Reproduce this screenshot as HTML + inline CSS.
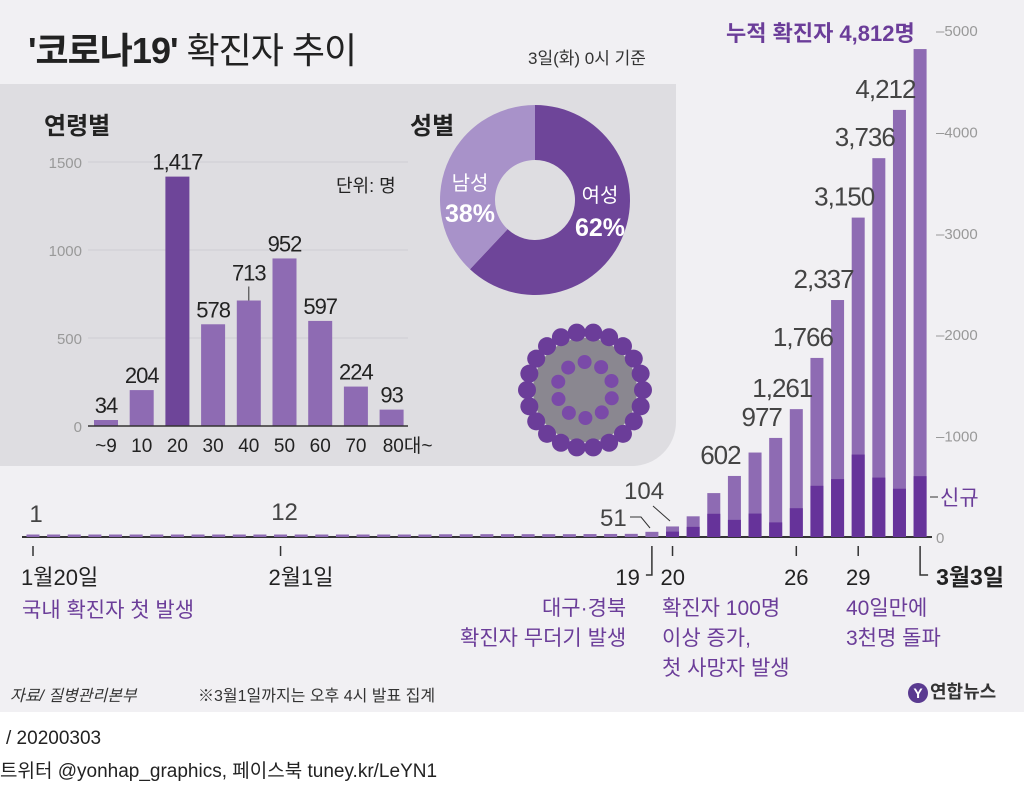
<!DOCTYPE html>
<html><head><meta charset="utf-8">
<style>
body{margin:0;width:1024px;height:794px;overflow:hidden;background:#fff;font-family:"Liberation Sans","Noto Sans CJK KR",sans-serif;}
#top{position:absolute;left:0;top:0;width:1024px;height:712px;background:#f1f0f3;}
#panel{position:absolute;left:0;top:84px;width:676px;height:382px;background:#dedde1;border-bottom-right-radius:44px;}
.t{position:absolute;white-space:nowrap;}
</style></head><body>
<div id="top"></div>
<div id="panel"></div>
<div class="t" style="left:28px;top:22px;font-size:36px;font-weight:bold;color:#222;letter-spacing:-1px">'코로나19' <span style="font-weight:normal">확진자 추이</span></div>
<div class="t" style="left:528px;top:44px;font-size:17px;color:#333">3일(화) 0시 기준</div>
<div class="t" style="left:44px;top:106px;font-size:24px;font-weight:bold;color:#222">연령별</div>
<div class="t" style="left:410px;top:106px;font-size:24px;font-weight:bold;color:#222">성별</div>
<div class="t" style="left:336px;top:172px;font-size:18px;color:#222">단위: 명</div>
<div class="t" style="left:726px;top:16px;font-size:22px;font-weight:bold;color:#6b3d99">누적 확진자 4,812명</div>
<svg id="chart" width="1024" height="794" style="position:absolute;left:0;top:0"></svg>
<div class="t" style="left:22px;top:594px;font-size:21px;color:#6b3d99">국내 확진자 첫 발생</div>
<div class="t" style="left:460px;top:594px;font-size:21px;color:#6b3d99;text-align:right;line-height:30px">&nbsp;&nbsp;&nbsp;&nbsp;&nbsp;&nbsp;&nbsp;&nbsp;&nbsp;대구·경북<br>확진자 무더기 발생</div>
<div class="t" style="left:662px;top:594px;font-size:21px;color:#6b3d99;line-height:30px">확진자 100명<br>이상 증가,<br>첫 사망자 발생</div>
<div class="t" style="left:846px;top:594px;font-size:21px;color:#6b3d99;line-height:30px">40일만에<br>3천명 돌파</div>
<div class="t" style="left:10px;top:682px;font-size:16px;color:#333;font-style:italic">자료/ 질병관리본부</div>
<div class="t" style="left:198px;top:682px;font-size:16px;color:#333">※3월1일까지는 오후 4시 발표 집계</div>
<div class="t" style="left:908px;top:678px;font-size:18px;font-weight:bold;color:#333"><span style="display:inline-block;width:20px;height:20px;border-radius:10px;background:#5a3a90;color:#fff;text-align:center;font-size:14px;line-height:20px;margin-right:2px">Y</span>연합뉴스</div>
<div class="t" style="left:6px;top:728px;font-size:19px;color:#222">/ 20200303</div>
<div class="t" style="left:0px;top:756px;font-size:19px;color:#222">트위터 @yonhap_graphics, 페이스북 tuney.kr/LeYN1</div>
<script>
const cumulative=[1,1,1,2,2,3,4,4,4,6,11,11,12,15,15,16,19,23,24,24,27,27,28,28,28,28,28,29,30,31,51,104,204,433,602,833,977,1261,1766,2337,3150,3736,4212,4812];
const newCases=[0,0,0,0,0,0,0,0,0,0,0,0,0,0,0,0,0,0,0,0,0,0,0,0,0,0,0,0,0,0,0,53,100,229,169,231,144,284,505,571,813,586,476,600];
const labelIdx=[34,36,37,38,39,40,41,42];
const yTicks=[0,1000,2000,3000,4000,5000];
const ageCats=["~9","10","20","30","40","50","60","70","80대~"];
const ageVals=[34,204,1417,578,713,952,597,224,93];
const ageTicks=[0,500,1000,1500];
const genderVals=[62,38];
const genderLabels=["여성","남성"];
const NS="http://www.w3.org/2000/svg";
const svg=document.getElementById('chart');
function mk(tag,attrs,name,txt){const e=document.createElementNS(NS,tag);for(const k in attrs)e.setAttribute(k,attrs[k]);


if(txt!==undefined)e.textContent=txt;svg.appendChild(e);return e;}
const fam='"Liberation Sans","Noto Sans CJK KR",sans-serif';
const X=i=>33+i*20.63, Y=v=>537-v*0.1014;
yTicks.forEach(t=>{mk('text',{x:936,y:Y(t)+6,'font-size':15,fill:'#999','font-family':fam},'y-tick-label',(t?'–':'')+t);});
mk('line',{x1:22,x2:932,y1:537,y2:537,stroke:'#333','stroke-width':2},'x-axis-line');
cumulative.forEach((v,i)=>{const h=Math.max(v*0.1014,2.5);
mk('rect',{x:X(i)-6.5,y:537-h,width:13,height:h,fill:'#8e6bb3'},'bar-cumulative');
if(newCases[i]>0){const hn=newCases[i]*0.1014;mk('rect',{x:X(i)-6.5,y:537-hn,width:13,height:hn,fill:'#66339a'},'bar-new');}});
labelIdx.forEach(i=>{const v=cumulative[i];mk('text',{x:X(i)-14,y:Y(v)-12,'font-size':26,fill:'#444','text-anchor':'middle','font-family':fam,'letter-spacing':'-1'},'bar-value-label',v.toLocaleString('en-US'));});
mk('text',{x:36,y:522,'font-size':24,fill:'#444','text-anchor':'middle','font-family':fam},'value-label-first','1');
mk('text',{x:X(12)+4,y:520,'font-size':24,fill:'#444','text-anchor':'middle','font-family':fam},'value-label-feb1','12');
mk('text',{x:600,y:526,'font-size':24,fill:'#444','font-family':fam},'value-label-51','51');
mk('polyline',{points:`630,517 641,517 650,528`,fill:'none',stroke:'#333'},'leader-51');
mk('text',{x:624,y:499,'font-size':24,fill:'#444','font-family':fam},'value-label-104','104');
mk('line',{x1:653,y1:506,x2:670,y2:521,stroke:'#333'},'leader-104');
mk('text',{x:940,y:505,'font-size':21,fill:'#6b3d99','font-family':fam},'new-cases-label','신규');
mk('line',{x1:930,x2:938,y1:497,y2:497,stroke:'#333'},'new-tick');
[[0,'1월20일','start'],[12,'2월1일','start'],[31,'20','start'],[37,'26','middle'],[40,'29','middle']].forEach(([i,l,a])=>{
mk('line',{x1:X(i),x2:X(i),y1:546,y2:556,stroke:'#333','stroke-width':1.5},'x-tick');
mk('text',{x:a==='start'?X(i)-12:X(i),y:585,'font-size':22,fill:'#222','text-anchor':a,'font-family':fam},'x-tick-label',l);});
mk('polyline',{points:`${X(30)},546 ${X(30)},575 ${X(30)-6},575`,fill:'none',stroke:'#333','stroke-width':1.5},'x-tick-19');
mk('text',{x:X(30)-12,y:585,'font-size':22,fill:'#222','text-anchor':'end','font-family':fam},'x-tick-label','19');
mk('polyline',{points:`${X(43)},546 ${X(43)},575 ${X(43)+8},575`,fill:'none',stroke:'#333','stroke-width':1.5},'x-tick-mar3');
mk('text',{x:X(43)+16,y:585,'font-size':23,'font-weight':'bold',fill:'#222','font-family':fam},'x-tick-label','3월3일');
const AX=i=>106+i*35.7, AY=v=>426-v*0.176;
ageTicks.forEach(t=>{if(t)mk('line',{x1:88,x2:408,y1:AY(t),y2:AY(t),stroke:'#cfcdd3'},'age-gridline');
mk('text',{x:82,y:AY(t)+6,'font-size':15,fill:'#999','text-anchor':'end','font-family':fam},'age-y-tick',t);});
ageVals.forEach((v,i)=>{mk('rect',{x:AX(i)-12,y:AY(v),width:24,height:426-AY(v),fill:i===2?'#6e4599':'#8e6bb3'},'age-bar');
mk('text',{x:AX(i),y:AY(v)-(i===4?20:7),'font-size':22,fill:'#222','text-anchor':'middle','font-family':fam,'letter-spacing':'-1'},'age-value-label',v.toLocaleString('en-US'));
mk('text',{x:i===8?AX(i)+16:AX(i),y:452,'font-size':19,fill:'#222','text-anchor':'middle','font-family':fam},'age-category-label',ageCats[i]);});
mk('line',{x1:AX(4),x2:AX(4),y1:AY(713)-14,y2:AY(713),stroke:'#333'},'leader-713');
mk('line',{x1:88,x2:408,y1:426,y2:426,stroke:'#333','stroke-width':1.5},'age-axis');
const cx=535,cy=200,R=95,r=40;let a0=-Math.PI/2;
const cols=['#6e4599','#a892c9'];
genderVals.forEach((v,i)=>{const a1=a0+v/100*2*Math.PI,lg=v>50?1:0;
const p=(rr,a)=>`${cx+rr*Math.cos(a)},${cy+rr*Math.sin(a)}`;
mk('path',{d:`M${p(R,a0)} A${R},${R} 0 ${lg} 1 ${p(R,a1)} L${p(r,a1)} A${r},${r} 0 ${lg} 0 ${p(r,a0)}Z`,fill:cols[i]},'gender-slice');
a0=a1;});
mk('text',{x:600,y:202,'font-size':20,fill:'#fff','text-anchor':'middle','font-family':fam},'gender-label',genderLabels[0]);
mk('text',{x:600,y:236,'font-size':25,'font-weight':'bold',fill:'#fff','text-anchor':'middle','font-family':fam},'gender-value',genderVals[0]+'%');
mk('text',{x:470,y:190,'font-size':20,fill:'#fff','text-anchor':'middle','font-family':fam},'gender-label',genderLabels[1]);
mk('text',{x:470,y:222,'font-size':25,'font-weight':'bold',fill:'#fff','text-anchor':'middle','font-family':fam},'gender-value',genderVals[1]+'%');
mk('circle',{cx:585,cy:390,r:52,fill:'#8a8790'},'virus-body');
for(let k=0;k<22;k++){const a=k/22*2*Math.PI;mk('circle',{cx:585+58*Math.cos(a),cy:390+58*Math.sin(a),r:9,fill:'#6b3d99'},'virus-spike');}
for(let k=0;k<10;k++){const a=k/10*2*Math.PI+0.3;mk('circle',{cx:585+28*Math.cos(a),cy:390+28*Math.sin(a),r:7,fill:'#7a4aa8'},'virus-spike-inner');}
</script>
</body></html>
